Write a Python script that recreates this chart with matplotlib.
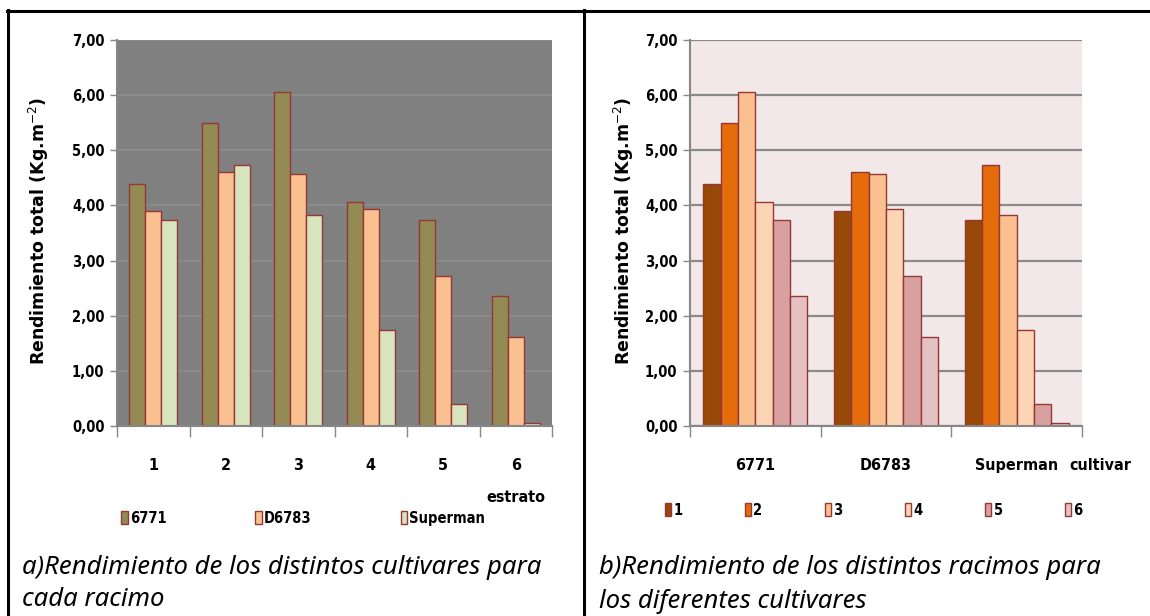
import matplotlib.pyplot as plt
import numpy as np
from matplotlib.lines import Line2D

# datos
racimos = ['1', '2', '3', '4', '5', '6']
cultivares = ['6771', 'D6783', 'Superman']
rend_6771 = [4.38, 5.49, 6.05, 4.07, 3.73, 2.35]
rend_d6783 = [3.90, 4.60, 4.57, 3.93, 2.72, 1.61]
rend_superman = [3.73, 4.74, 3.83, 1.74, 0.39, 0.06]
y_ticks = [0, 1, 2, 3, 4, 5, 6, 7]
y_labels = ['0,00', '1,00', '2,00', '3,00', '4,00', '5,00', '6,00', '7,00']

W, H = 1150, 616
BORDE = '#953735'
COND = dict(fontfamily='DejaVu Sans', fontstretch='condensed', fontweight='bold')


def rect(x0, y0, x1, y1):
    return [x0 / W, 1 - y1 / H, (x1 - x0) / W, (y1 - y0) / H]


def estilo_eje(ax, n, fondo, grid_color, grid_lw, xlab):
    ax.set_facecolor(fondo)
    ax.set_ylim(0, 7)
    ax.set_xlim(-0.5, n - 0.5)
    ax.set_yticks(y_ticks)
    ax.set_yticklabels(y_labels, fontsize=10.5, **COND)
    ax.yaxis.grid(True, color=grid_color, linewidth=grid_lw)
    ax.set_axisbelow(True)
    for s in ['top', 'right']:
        ax.spines[s].set_visible(False)
    for s in ['left', 'bottom']:
        ax.spines[s].set_color('#868686')
        ax.spines[s].set_linewidth(1.5)
    ax.tick_params(axis='y', length=5, color='#868686', width=1, pad=4)
    ax.set_xticks(np.arange(-0.5, n), labels=[])
    ax.tick_params(axis='x', which='major', length=8, color='#868686', width=1)
    ax.set_ylabel('Rendimiento total (Kg.m$^{-2}$)', fontweight='bold', fontsize=12.5)
    ax.yaxis.set_label_coords(xlab, 0.505)


def etiquetas_cat(ax, pos, labels):
    ax.set_xticks(pos, labels=labels, minor=True)
    ax.tick_params(axis='x', which='minor', length=0, pad=23)
    for t in ax.get_xticklabels(minor=True):
        t.set_fontfamily('DejaVu Sans')
        t.set_fontstretch('condensed')
        t.set_fontweight('bold')
        t.set_fontsize(11.5)


leg_prop = {'family': 'DejaVu Sans', 'stretch': 'condensed', 'weight': 'bold', 'size': 10.5}

fig = plt.figure(figsize=(W / 100, H / 100), dpi=100)

# a) cultivares por racimo
ax1 = fig.add_axes(rect(117, 40, 552, 426))
x = np.arange(len(racimos))
w = 0.22
series_a = [rend_6771, rend_d6783, rend_superman]
colores_a = ['#948A54', '#FAC090', '#D7E4BD']
for i, (vals, col, nom) in enumerate(zip(series_a, colores_a, cultivares)):
    ax1.bar(x + (i - 1) * w, vals, w, color=col, edgecolor=BORDE, linewidth=1, label=nom)
estilo_eje(ax1, len(racimos), '#808080', '#8E8E8E', 1.2, -0.152)
etiquetas_cat(ax1, x, racimos)
ax1.legend(loc='upper left', bbox_to_anchor=(-0.021, -0.185), ncol=3, frameon=False,
           handlelength=0.45, handleheight=1.0, handletextpad=0.15, columnspacing=6.1,
           prop=leg_prop)
fig.text(516 / W, 1 - 498 / H, 'estrato', ha='center', va='center', fontsize=11.5, **COND)

# b) racimos por cultivar
ax2 = fig.add_axes(rect(690, 40, 1082, 426))
xc = np.arange(len(cultivares))
w2 = 0.133
series_b = np.array(series_a).T
colores_b = ['#984807', '#E46C0A', '#FAC090', '#FCD5B5', '#D9A0A0', '#E6C1C3']
for j, (vals, col, nom) in enumerate(zip(series_b, colores_b, racimos)):
    ax2.bar(xc + (j - 2.5) * w2, vals, w2, color=col, edgecolor=BORDE, linewidth=1, label=nom)
estilo_eje(ax2, len(cultivares), '#F2E8E8', '#8A8A8A', 1.6, -0.138)
etiquetas_cat(ax2, xc, cultivares)
ax2.legend(loc='upper left', bbox_to_anchor=(-0.098, -0.165), ncol=6, frameon=False,
           handlelength=0.45, handleheight=1.0, handletextpad=0.15, columnspacing=4.26,
           prop=leg_prop)
fig.text(1100 / W, 1 - 465 / H, 'cultivar', ha='center', va='center', fontsize=11.5, **COND)

# leyendas de figura
cap = dict(ha='left', va='center', style='italic', fontfamily='Noto Sans', fontsize=18.5)
fig.text(22 / W, 1 - 567 / H, 'a)Rendimiento de los distintos cultivares para', **cap)
fig.text(22 / W, 1 - 600 / H, 'cada racimo', **cap)
fig.text(599 / W, 1 - 568 / H, 'b)Rendimiento de los distintos racimos para', **cap)
fig.text(599 / W, 1 - 601 / H, 'los diferentes cultivares', **cap)

# marco de la tabla
for xs, ys in [((7, W), (10.5, 10.5)), ((8, 8), (10, H)), ((584, 584), (10, H))]:
    fig.add_artist(Line2D([v / W for v in xs], [1 - v / H for v in ys],
                          color='black', linewidth=2.2))

fig.savefig('out.png', dpi=100)
